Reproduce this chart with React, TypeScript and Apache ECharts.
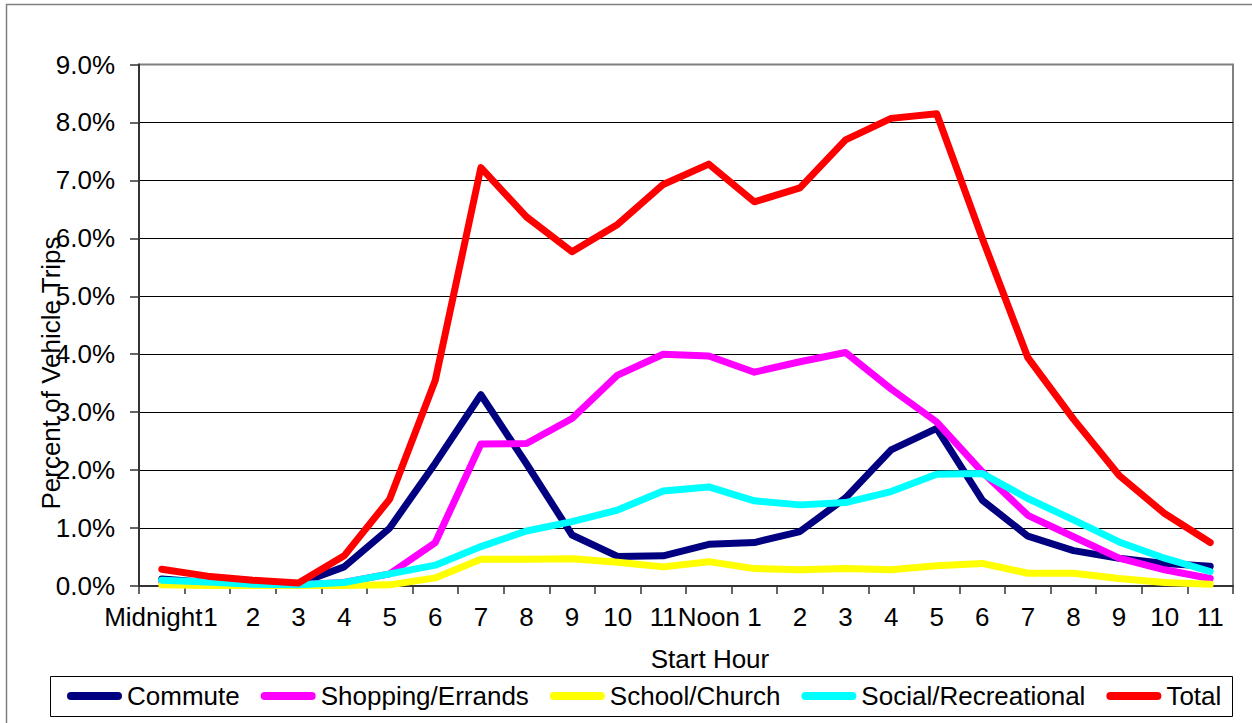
import React, { useEffect, useRef } from "react";
import * as echarts from "echarts";

const hours = [
  "Midnight", "1", "2", "3", "4", "5", "6", "7", "8", "9", "10", "11",
  "Noon", "1", "2", "3", "4", "5", "6", "7", "8", "9", "10", "11",
];

const commute = [0.12, 0.06, 0.02, 0.04, 0.33, 1.0, 2.12, 3.3, 2.11, 0.88, 0.51, 0.52, 0.72, 0.75, 0.94, 1.52, 2.35, 2.72, 1.48, 0.86, 0.61, 0.48, 0.39, 0.34];
const shopping = [0.07, 0.05, 0.02, 0.02, 0.06, 0.21, 0.75, 2.45, 2.46, 2.89, 3.64, 4.0, 3.97, 3.69, 3.87, 4.03, 3.4, 2.83, 1.97, 1.22, 0.85, 0.48, 0.28, 0.13];
const school = [0.02, 0.01, 0.01, 0.01, 0.01, 0.02, 0.14, 0.46, 0.46, 0.47, 0.41, 0.33, 0.42, 0.3, 0.28, 0.3, 0.28, 0.35, 0.39, 0.22, 0.22, 0.13, 0.06, 0.03];
const social = [0.1, 0.07, 0.03, 0.02, 0.06, 0.21, 0.36, 0.68, 0.95, 1.11, 1.31, 1.64, 1.71, 1.47, 1.4, 1.44, 1.63, 1.93, 1.94, 1.51, 1.14, 0.76, 0.48, 0.25];
const total = [0.29, 0.17, 0.1, 0.05, 0.52, 1.5, 3.55, 7.22, 6.37, 5.77, 6.24, 6.93, 7.28, 6.63, 6.87, 7.7, 8.07, 8.15, 6.0, 3.94, 2.88, 1.91, 1.25, 0.75];

const seriesNames = ["Commute", "Shopping/Errands", "School/Church", "Social/Recreational", "Total"];
const seriesColors = ["#000080", "#FF00FF", "#FFFF00", "#00FFFF", "#FF0000"];
const seriesData = [commute, shopping, school, social, total];

const yTicks = [0, 1, 2, 3, 4, 5, 6, 7, 8, 9];

const FONT = "'Liberation Sans', Arial, sans-serif";

export default function App() {
  const ref = useRef<HTMLDivElement>(null);

  useEffect(() => {
    if (!ref.current) return;
    const chart = echarts.init(ref.current, null, { renderer: "svg" });
    const splitColors = yTicks.map((t, i) => (i === yTicks.length - 1 ? "#808080" : "#000000"));
    const legendIcon = "path://M4,0 L51,0 A4,4 0 0 1 51,8 L4,8 A4,4 0 0 1 4,0 Z";

    chart.setOption({
      animation: false,
      backgroundColor: "#ffffff",
      textStyle: { fontFamily: FONT },
      grid: {
        left: 139,
        right: 19,
        top: 64.5,
        bottom: 137,
        show: true,
        borderColor: "#808080",
        borderWidth: 2,
        backgroundColor: "transparent",
      },
      legend: {
        left: 67,
        top: 683,
        padding: 0,
        itemWidth: 55,
        itemHeight: 8,
        itemGap: 21,
        icon: legendIcon,
        textStyle: { fontFamily: FONT, fontSize: 26, color: "#000" },
        data: seriesNames,
      },
      xAxis: {
        type: "category",
        data: hours,
        boundaryGap: true,
        axisLine: { lineStyle: { color: "#333", width: 2 } },
        axisTick: { show: true, length: 8, lineStyle: { color: "#333", width: 1.5 } },
        axisLabel: {
          interval: 0,
          margin: 18,
          fontSize: 26,
          color: "#000",
          fontFamily: FONT,
          formatter: (v: string, idx: number) =>
            idx === 0 ? `{mid|${v}}` : idx === 1 ? `{one|${v}}` : v,
          rich: {
            mid: { fontSize: 26, fontFamily: FONT, color: "#000", padding: [0, 17, 0, 0] },
            one: { fontSize: 26, fontFamily: FONT, color: "#000", padding: [0, 0, 0, 6] },
          },
        },
      },
      yAxis: {
        type: "value",
        min: 0,
        max: 9,
        interval: 1,
        axisLine: { show: true, lineStyle: { color: "#333", width: 2 } },
        axisTick: { show: true, length: 9, lineStyle: { color: "#333", width: 1.5 } },
        axisLabel: {
          margin: 24,
          fontSize: 26,
          color: "#000",
          fontFamily: FONT,
          formatter: (v: number) => `${v.toFixed(1)}%`,
        },
        splitLine: { show: true, lineStyle: { color: splitColors, width: 1.2 } },
      },
      series: seriesNames.map((name, i) => ({
        name,
        type: "line",
        data: seriesData[i],
        showSymbol: false,
        symbol: "none",
        color: seriesColors[i],
        lineStyle: { color: seriesColors[i], width: 7, cap: "round", join: "round" },
        z: 2 + i,
      })),
      graphic: [
        {
          type: "rect",
          shape: { x: 6.5, y: 4.5, width: 1270, height: 740 },
          style: { fill: "none", stroke: "#7f7f7f", lineWidth: 1.5 },
          silent: true,
          z: 0,
        },
        {
          type: "rect",
          shape: { x: 50.5, y: 676.5, width: 1182, height: 40 },
          style: { fill: "none", stroke: "#000", lineWidth: 1 },
          silent: true,
          z: 0,
        },
        {
          type: "text",
          x: 710,
          y: 659,
          style: {
            text: "Start Hour",
            font: `26px ${FONT}`,
            fill: "#000",
            textAlign: "center",
            textVerticalAlign: "middle",
          },
          z: 10,
        },
        {
          type: "text",
          x: 51,
          y: 373,
          rotation: Math.PI / 2,
          style: {
            text: "Percent of Vehicle Trips",
            font: `26px ${FONT}`,
            fill: "#000",
            textAlign: "center",
            textVerticalAlign: "middle",
          },
          z: 10,
        },
      ],
    });

    return () => chart.dispose();
  }, []);

  return (
    <div
      ref={ref}
      style={{ position: "absolute", left: 0, top: 0, width: 1252, height: 723, background: "#fff" }}
    />
  );
}
